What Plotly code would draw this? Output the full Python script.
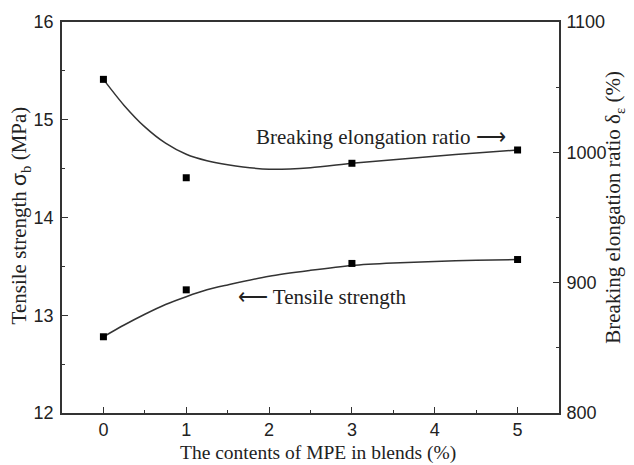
import plotly.graph_objects as go

# MPE content in the blends (%)
mpe_content = [0, 1, 3, 5]

# Measured values
tensile_strength = [12.78, 13.26, 13.53, 13.57]      # MPa, left axis
elongation_ratio = [1056, 980.5, 991.6, 1001.8]      # %, right axis

# Smoothed trend curves
fit_x = [0, 0.25, 0.5, 0.75, 1, 1.25, 1.5, 2, 2.5, 3, 3.5, 4, 4.5, 5]
tensile_fit = [12.78, 12.90, 13.01, 13.11, 13.19, 13.26, 13.31, 13.40,
               13.46, 13.51, 13.535, 13.55, 13.562, 13.57]
elongation_fit = [1056, 1036, 1019.5, 1007, 998.5, 993.5, 990.5, 987.0,
                  988.2, 991.6, 994.4, 997.0, 999.5, 1001.8]

x_ticks = [0, 1, 2, 3, 4, 5]
left_ticks = [12, 13, 14, 15, 16]
right_ticks = [800, 900, 1000, 1100]

LINE = "#333333"
TEXT = "#222222"
SERIF = "Liberation Serif, Times New Roman, serif"
SANS = "Liberation Sans, Arial, sans-serif"
TITLE_SIZE = 21

fig = go.Figure()

fig.add_trace(go.Scatter(
    x=fit_x, y=tensile_fit, mode="lines", yaxis="y",
    line=dict(color=LINE, width=1.5, shape="spline", smoothing=0.8),
    showlegend=False, hoverinfo="skip"))
fig.add_trace(go.Scatter(
    x=fit_x, y=elongation_fit, mode="lines", yaxis="y2",
    line=dict(color=LINE, width=1.5, shape="spline", smoothing=0.8),
    showlegend=False, hoverinfo="skip"))

fig.add_trace(go.Scatter(
    x=mpe_content, y=tensile_strength, mode="markers", yaxis="y",
    marker=dict(symbol="square", size=7, color="black"),
    name="Tensile strength", showlegend=False))
fig.add_trace(go.Scatter(
    x=mpe_content, y=elongation_ratio, mode="markers", yaxis="y2",
    marker=dict(symbol="square", size=7, color="black"),
    name="Breaking elongation ratio", showlegend=False))

axis_common = dict(
    showline=True, linecolor=LINE, linewidth=1.6,
    ticks="inside", ticklen=6, tickwidth=1.2, tickcolor=LINE,
    showgrid=False, zeroline=False,
    tickfont=dict(family=SANS, size=18, color=TEXT),
)

title_font = dict(family=SERIF, size=TITLE_SIZE, color=TEXT)

fig.update_layout(
    width=634, height=465,
    margin=dict(l=62, r=75, t=22, b=52),
    paper_bgcolor="white", plot_bgcolor="white",
    xaxis=dict(
        **axis_common,
        range=[-0.5, 5.5], tickvals=x_ticks, mirror=True,
        ticklabelstandoff=0,
        minor=dict(dtick=0.5, ticks="inside", ticklen=3, tickcolor=LINE),
    ),
    yaxis=dict(
        **axis_common,
        range=[12, 16], tickvals=left_ticks, ticklabelstandoff=3,
        minor=dict(dtick=0.5, ticks="inside", ticklen=3, tickcolor=LINE),
    ),
    yaxis2=dict(
        **axis_common,
        range=[800, 1100], tickvals=right_ticks,
        overlaying="y", side="right", ticklabelstandoff=2,
        minor=dict(dtick=50, ticks="inside", ticklen=3, tickcolor=LINE),
    ),
    annotations=[
        # axis titles
        dict(x=0.515, y=-0.1035, xref="paper", yref="paper",
             text="The contents of MPE in blends (%)", showarrow=False,
             xanchor="center", yanchor="middle",
             font=dict(family=SERIF, size=19.5, color=TEXT)),
        dict(x=-0.084, y=0.506, xref="paper", yref="paper", textangle=-90,
             text="Tensile strength <span style='font-family:Liberation Sans'>σ</span><sub>b</sub> (MPa)",
             showarrow=False, xanchor="center", yanchor="middle", font=title_font),
        dict(x=1.1107, y=0.525, xref="paper", yref="paper", textangle=-90,
             text="Breaking elongation ratio δ<sub>ε</sub> (%)",
             showarrow=False, xanchor="center", yanchor="middle", font=title_font),
        # series labels
        dict(x=1.82, y=1011.8, xref="x", yref="y2",
             text="Breaking elongation ratio ⟶", showarrow=False,
             xanchor="left", yanchor="middle", font=title_font),
        dict(x=1.6, y=13.19, xref="x", yref="y",
             text="⟵ Tensile strength", showarrow=False,
             xanchor="left", yanchor="middle", font=title_font),
    ],
)

fig.write_html("out.html")
